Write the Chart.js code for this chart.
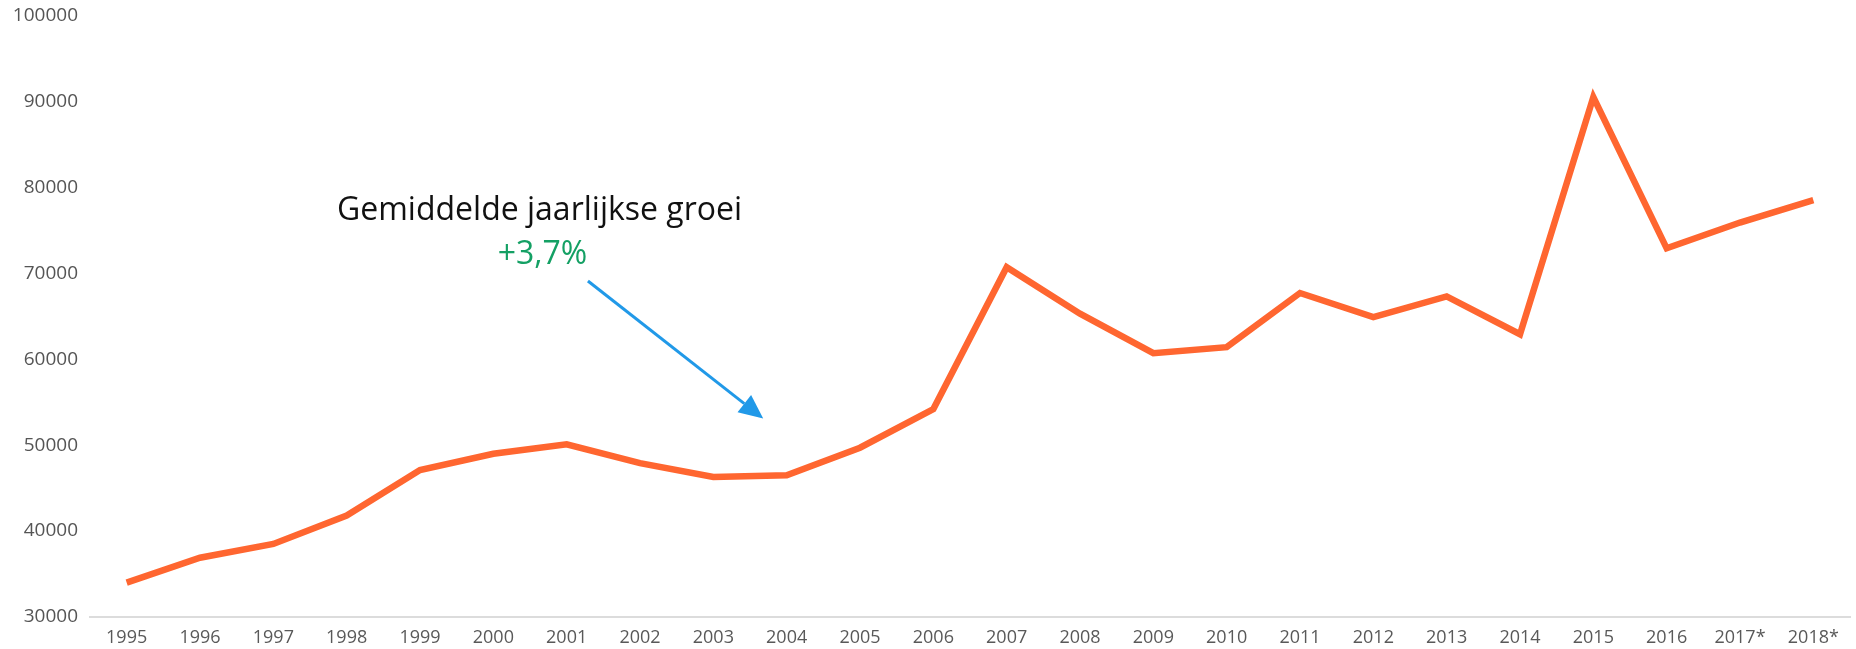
<!DOCTYPE html>
<html>
<head>
<meta charset="utf-8">
<script src="https://cdn.jsdelivr.net/npm/chart.js@4"></script>
<style>
  body { margin: 0; background: #fff; }
  #wrap { width: 1856px; height: 649px; position: relative; }
</style>
</head>
<body>
<div id="wrap"><canvas id="growthChart"></canvas></div>
<script>
const years = ['1995', '1996', '1997', '1998', '1999', '2000', '2001', '2002', '2003', '2004', '2005', '2006',
  '2007', '2008', '2009', '2010', '2011', '2012', '2013', '2014', '2015', '2016', '2017*', '2018*'];
const values = [34000, 36900, 38500, 41800, 47100, 49000, 50100, 47900, 46300, 46500, 49700, 54200,
  70700, 65300, 60700, 61400, 67700, 64900, 67300, 62900, 90500, 72900, 75900, 78500];
const yTicks = [30000, 40000, 50000, 60000, 70000, 80000, 90000, 100000];

const titleText = 'Gemiddelde jaarlijkse groei';
const growthText = '+3,7%';

// annotation: text + arrow, placed in data units (index, value)
const annotation = {
  title: { x: 5.63, y: 77300 },
  growth: { x: 5.67, y: 72100 },
  arrowFrom: { x: 6.29, y: 69100 },
  arrowTo: { x: 8.68, y: 53100 }
};

const annotationPlugin = {
  id: 'growthNote',
  afterDraw(chart) {
    const { ctx, scales: { x, y } } = chart;
    const px = p => [x.getPixelForValue(p.x), y.getPixelForValue(p.y)];

    ctx.save();
    ctx.textAlign = 'center';
    ctx.textBaseline = 'middle';

    const [tx, ty] = px(annotation.title);
    ctx.fillStyle = '#111';
    ctx.font = '32px "Open Sans"';
    ctx.fillText(titleText, tx, ty);

    const [gx, gy] = px(annotation.growth);
    ctx.fillStyle = '#14a064';
    ctx.font = '32px "Open Sans"';
    ctx.fillText(growthText, gx, gy);

    const [x1, y1] = px(annotation.arrowFrom);
    const [x2, y2] = px(annotation.arrowTo);
    const ang = Math.atan2(y2 - y1, x2 - x1);
    const headLen = 24, headW = 11;
    const bx = x2 - headLen * Math.cos(ang);
    const by = y2 - headLen * Math.sin(ang);

    ctx.strokeStyle = '#2199e8';
    ctx.lineWidth = 3;
    ctx.beginPath();
    ctx.moveTo(x1, y1);
    ctx.lineTo(bx, by);
    ctx.stroke();

    ctx.fillStyle = '#2199e8';
    ctx.beginPath();
    ctx.moveTo(x2, y2);
    ctx.lineTo(bx + headW * Math.sin(ang), by - headW * Math.cos(ang));
    ctx.lineTo(bx - headW * Math.sin(ang), by + headW * Math.cos(ang));
    ctx.closePath();
    ctx.fill();
    ctx.restore();
  }
};

new Chart(document.getElementById('growthChart'), {
  type: 'line',
  data: {
    labels: years,
    datasets: [{
      data: values,
      borderColor: '#ff6630',
      borderWidth: 6.5,
      pointRadius: 0,
      tension: 0,
      borderJoinStyle: 'miter'
    }]
  },
  options: {
    responsive: true,
    maintainAspectRatio: false,
    animation: false,
    layout: { padding: { top: 0, right: 6, left: 0, bottom: 0 } },
    plugins: { legend: { display: false }, tooltip: { enabled: false } },
    scales: {
      x: {
        offset: true,
        grid: { display: false },
        border: { display: true, color: '#dcdcdc', width: 2 },
        ticks: {
          color: '#595959',
          font: { family: 'Open Sans', size: 18 },
          maxRotation: 0,
          autoSkip: false,
          padding: 2
        },
        afterFit(scale) { scale.height = 32; }
      },
      y: {
        min: 30000,
        max: 100000,
        grid: { display: false },
        border: { display: false },
        afterBuildTicks(scale) { scale.ticks = yTicks.map(v => ({ value: v })); },
        ticks: {
          color: '#555',
          font: { family: 'Open Sans', size: 19 },
          padding: 4,
          callback: v => String(v)
        },
        afterFit(scale) { scale.width = 90; }
      }
    }
  },
  plugins: [annotationPlugin]
});
</script>
</body>
</html>
